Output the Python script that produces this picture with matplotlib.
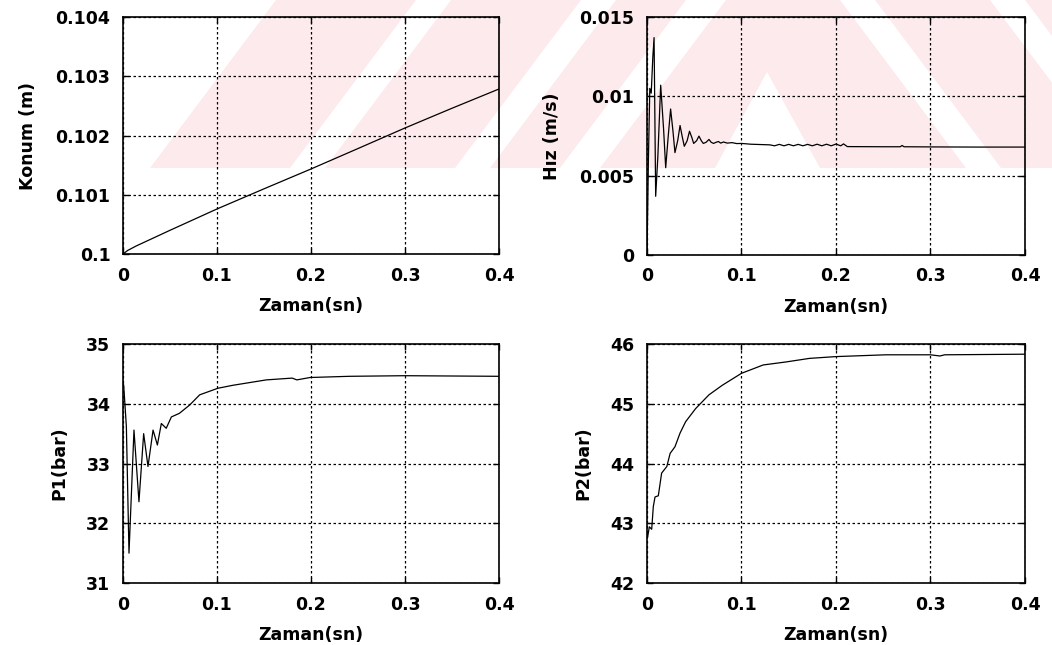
import matplotlib
matplotlib.use("Agg")
import matplotlib.pyplot as plt
from matplotlib.patches import Polygon

# Konum (position) [s], [m]
konum_t = [0, 0.005, 0.014, 0.05, 0.1, 0.15, 0.2, 0.25, 0.3, 0.35, 0.4]
konum_y = [0.1, 0.10006, 0.100135, 0.10040, 0.10076, 0.10110, 0.101435,
           0.10178, 0.102127, 0.10246, 0.102785]

# Hiz (velocity) [s], [m/s]
hiz_t = [0, 0.0008, 0.0015, 0.003, 0.0045, 0.0062, 0.0075, 0.0092, 0.0115,
         0.0145, 0.0175, 0.0198, 0.0225, 0.025, 0.0275, 0.0296, 0.0325,
         0.035, 0.0375, 0.0395, 0.0425, 0.045, 0.0475, 0.0494, 0.0525,
         0.055, 0.0575, 0.0596, 0.0625, 0.0656, 0.068, 0.0705, 0.073,
         0.0756, 0.078, 0.081, 0.085, 0.09, 0.095, 0.1, 0.11, 0.12, 0.13,
         0.135, 0.14, 0.145, 0.15, 0.155, 0.16, 0.165, 0.17, 0.175, 0.18,
         0.185, 0.19, 0.195, 0.2, 0.205, 0.208, 0.212, 0.25, 0.268, 0.27,
         0.272, 0.3, 0.35, 0.4]
hiz_v = [0, 0.0030, 0.0060, 0.0105, 0.0102, 0.0125, 0.0137, 0.0037, 0.0062,
         0.0107, 0.0080, 0.0055, 0.0075, 0.0092, 0.0078, 0.00645, 0.0072,
         0.00816, 0.0074, 0.00685, 0.0072, 0.0078, 0.0074, 0.00703, 0.0072,
         0.00749, 0.0072, 0.00703, 0.0071, 0.00728, 0.0071, 0.00703, 0.0071,
         0.00715, 0.00705, 0.00712, 0.00705, 0.00708, 0.00702, 0.00703,
         0.00698, 0.00696, 0.00694, 0.00688, 0.00697, 0.00688, 0.00697,
         0.00688, 0.00697, 0.00688, 0.00697, 0.00688, 0.00698, 0.00688,
         0.00698, 0.00688, 0.00699, 0.00688, 0.00700, 0.00683, 0.00682,
         0.00682, 0.00690, 0.00682, 0.00681, 0.00680, 0.00680]

# P1 pressure [s], [bar]
p1_t = [0, 0.0008, 0.0036, 0.0064, 0.0117, 0.017, 0.022, 0.0266, 0.032,
        0.0366, 0.0408, 0.046, 0.0515, 0.060, 0.071, 0.0816, 0.101, 0.117,
        0.1525, 0.18, 0.185, 0.199, 0.241, 0.30, 0.4]
p1_y = [34.38, 34.30, 33.62, 31.50, 33.56, 32.36, 33.50, 32.95, 33.56,
        33.31, 33.67, 33.59, 33.78, 33.84, 33.98, 34.15, 34.26, 34.31,
        34.40, 34.43, 34.40, 34.44, 34.46, 34.47, 34.46]

# P2 pressure [s], [bar]
p2_t = [0, 0.0007, 0.0025, 0.005, 0.0067, 0.0085, 0.012, 0.0155, 0.021,
        0.0245, 0.0296, 0.035, 0.0409, 0.0515, 0.0656, 0.0797, 0.1, 0.123,
        0.147, 0.172, 0.2, 0.253, 0.3, 0.31, 0.315, 0.4]
p2_y = [42.85, 42.77, 42.94, 42.90, 43.28, 43.44, 43.46, 43.84, 43.95,
        44.17, 44.28, 44.51, 44.70, 44.92, 45.15, 45.31, 45.51, 45.65,
        45.70, 45.76, 45.79, 45.82, 45.82, 45.80, 45.82, 45.83]

x_ticks = [0, 0.1, 0.2, 0.3, 0.4]
x_labels = ["0", "0.1", "0.2", "0.3", "0.4"]
x_title = "Zaman(sn)"

panels = [
    dict(t=konum_t, y=konum_y, ylabel="Konum (m)",
         yticks=[0.1, 0.101, 0.102, 0.103, 0.104],
         ylabels=["0.1", "0.101", "0.102", "0.103", "0.104"],
         rect=[0.1169, 0.6062, 0.3574, 0.3674]),
    dict(t=hiz_t, y=hiz_v, ylabel="Hız (m/s)",
         yticks=[0, 0.005, 0.01, 0.015],
         ylabels=["0", "0.005", "0.01", "0.015"],
         rect=[0.6150, 0.6047, 0.3593, 0.3690]),
    dict(t=p1_t, y=p1_y, ylabel="P1(bar)",
         yticks=[31, 32, 33, 34, 35],
         ylabels=["31", "32", "33", "34", "35"],
         rect=[0.1169, 0.0961, 0.3574, 0.3705]),
    dict(t=p2_t, y=p2_y, ylabel="P2(bar)",
         yticks=[42, 43, 44, 45, 46],
         ylabels=["42", "43", "44", "45", "46"],
         rect=[0.6150, 0.0961, 0.3593, 0.3705]),
]

W, H = 1052, 645
fig = plt.figure(figsize=(W / 100, H / 100), dpi=100)
fig.patch.set_facecolor("white")


def add_shape(pts, color, z):
    # pixel coords with y going down -> figure fraction
    fig.patches.append(Polygon([(x / W, 1 - y / H) for x, y in pts],
                               closed=True, transform=fig.transFigure,
                               facecolor=color, edgecolor="none", zorder=z))


# faint pink watermark in the upper band, cut by white stripes
pink = "#fdeaed"
add_shape([(150, 168), (1052, 168), (1052, 0), (276, 0)], pink, -3)
white_stripes = [
    [(290, 168), (325, 168), (451, 0), (416, 0)],
    [(455, 168), (490, 168), (616, 0), (581, 0)],
    [(560, 168), (600, 168), (726, 0), (686, 0)],
    [(715, 168), (767, 72), (820, 168)],
    [(840, 0), (875, 0), (1001, 168), (966, 168)],
    [(990, 0), (1025, 0), (1151, 168), (1116, 168)],
]
for pts in white_stripes:
    add_shape(pts, "white", -2)

font = dict(family="DejaVu Sans", weight="bold", size=12.5)

for p in panels:
    ax = fig.add_axes(p["rect"])
    ax.set_facecolor("none")
    ax.plot(p["t"], p["y"], color="black", lw=0.9)
    ax.set_xlim(0, 0.4)
    ax.set_ylim(p["yticks"][0], p["yticks"][-1])
    ax.set_xticks(x_ticks)
    ax.set_xticklabels(x_labels, fontdict=font)
    ax.set_yticks(p["yticks"])
    ax.set_yticklabels(p["ylabels"], fontdict=font)
    ax.tick_params(direction="in", length=4, width=1, pad=9,
                   top=True, right=True)
    ax.grid(True, color="black", linestyle=(0, (2, 2)), linewidth=0.9)
    for s in ax.spines.values():
        s.set_linewidth(1.2)
    ax.set_xlabel(x_title, fontdict=font, labelpad=9)
    ax.set_ylabel(p["ylabel"], fontdict=font, labelpad=13)

fig.savefig("out.png", dpi=100)
